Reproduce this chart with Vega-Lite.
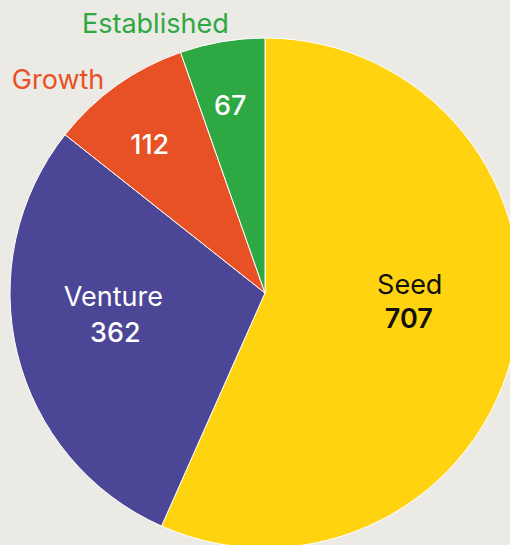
{
  "$schema": "https://vega.github.io/schema/vega-lite/v6.json",
  "autosize": "none",
  "width": 530,
  "height": 586,
  "padding": 0,
  "background": "#ECEAE4",
  "config": {"view": {"stroke": null}, "text": {"font": "Inter", "fontSize": 27, "baseline": "middle", "align": "center"}},
  "data": {"values": [
    {"category": "Seed", "value": 707},
    {"category": "Venture", "value": 362},
    {"category": "Growth", "value": 112},
    {"category": "Established", "value": 67}
  ]},
  "encoding": {
    "theta": {"field": "value", "type": "quantitative", "stack": true},
    "order": {"field": "value", "type": "quantitative", "sort": "descending"}
  },
  "layer": [
    {
      "mark": {"type": "arc", "radius": 255, "stroke": "#ffffff", "strokeWidth": 1},
      "encoding": {
        "color": {"field": "category", "type": "nominal", "legend": null,
          "scale": {"domain": ["Seed", "Venture", "Growth", "Established"], "range": ["#FFD30F", "#4B4796", "#E85025", "#2EA843"]}}
      }
    },
    {
      "mark": {"type": "text", "radius": 150, "dx": -2, "dy": -38, "color": "#111111"},
      "encoding": {"text": {"condition": {"test": "datum.category === 'Seed'", "field": "category"}, "value": ""}}
    },
    {
      "mark": {"type": "text", "radius": 150, "dx": -3, "dy": -4, "fontWeight": 600, "color": "#111111"},
      "encoding": {"text": {"condition": {"test": "datum.category === 'Seed'", "field": "value"}, "value": ""}}
    },
    {
      "mark": {"type": "text", "radius": 150, "dx": -6, "dy": -31, "color": "#ffffff"},
      "encoding": {"text": {"condition": {"test": "datum.category === 'Venture'", "field": "category"}, "value": ""}}
    },
    {
      "mark": {"type": "text", "radius": 150, "dx": -4, "dy": 5, "fontWeight": 500, "color": "#ffffff"},
      "encoding": {"text": {"condition": {"test": "datum.category === 'Venture'", "field": "value"}, "value": ""}}
    },
    {
      "mark": {"type": "text", "radius": 190, "dx": -5, "dy": 8, "fontWeight": 500, "color": "#ffffff"},
      "encoding": {"text": {"condition": {"test": "datum.category === 'Growth'", "field": "value"}, "value": ""}}
    },
    {
      "mark": {"type": "text", "radius": 190, "dx": -3, "dy": 1, "fontWeight": 500, "color": "#ffffff"},
      "encoding": {"text": {"condition": {"test": "datum.category === 'Established'", "field": "value"}, "value": ""}}
    },
    {
      "mark": {"type": "text", "radius": 270, "dx": -4, "dy": 8, "align": "right"},
      "encoding": {
        "text": {"condition": {"test": "datum.category === 'Growth'", "field": "category"}, "value": ""},
        "color": {"field": "category", "type": "nominal", "legend": null}
      }
    },
    {
      "mark": {"type": "text", "radius": 270, "dx": 9, "dy": -2, "align": "right"},
      "encoding": {
        "text": {"condition": {"test": "datum.category === 'Established'", "field": "category"}, "value": ""},
        "color": {"field": "category", "type": "nominal", "legend": null}
      }
    }
  ]
}
